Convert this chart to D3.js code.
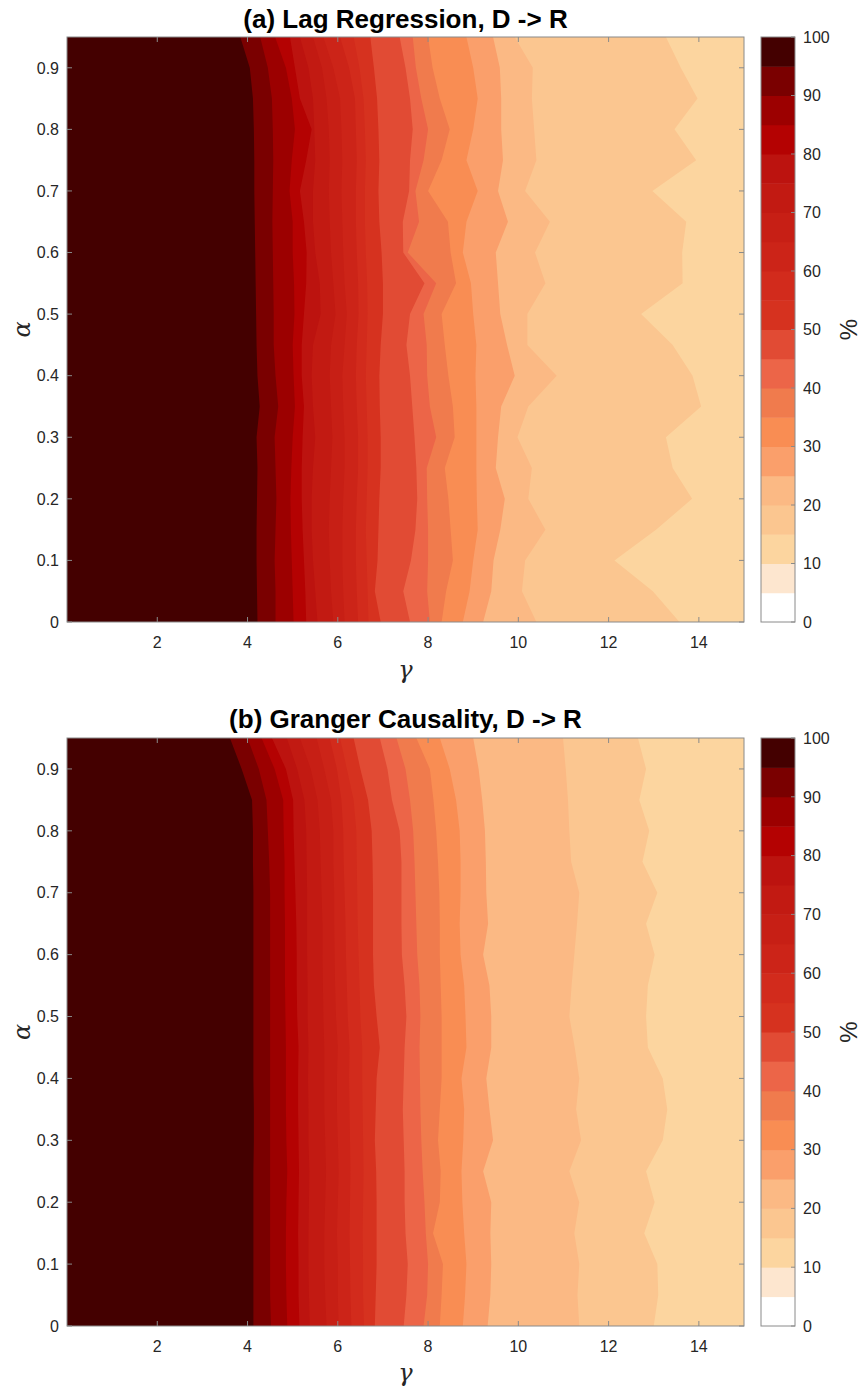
<!DOCTYPE html>
<html><head><meta charset="utf-8">
<script src="https://cdn.jsdelivr.net/npm/d3@7"></script>
<style>body{margin:0;background:#fff} svg{display:block}</style>
</head><body>
<svg id="chart" width="863" height="1389"></svg>
<script>
// ---------- data ----------
const alphaRows = [0,0.05,0.1,0.15,0.2,0.25,0.3,0.35,0.4,0.45,0.5,0.55,0.6,0.65,0.7,0.75,0.8,0.85,0.9,0.95];
const levels = [15,20,25,30,35,40,45,50,55,60,65,70,75,80,85,90,95];
const bandColors = ["#ffffff","#fde6cf","#fcd59f","#fbc690","#fbb984","#fa9f6b","#f98d53","#f07b4d","#ec6548","#e14b34",
                    "#d6321f","#d22b1c","#cc2418","#c71f15","#c21a12","#bc130f","#b40202","#9c0000","#7a0000","#440000"];
const cbTicks = [0,10,20,30,40,50,60,70,80,90,100];
const xTicks = [2,4,6,8,10,12,14];
const yTicks = [0,0.1,0.2,0.3,0.4,0.5,0.6,0.7,0.8,0.9];
const titles = ["(a) Lag Regression, D -> R","(b) Granger Causality, D -> R"];

// (a) Lag Regression: gamma position of each contour level, per alpha row
const lagL15 = [13.57,12.98,12.13,13.05,13.85,13.42,13.27,14.05,13.86,13.42,12.72,13.64,13.63,13.72,12.97,13.94,13.46,13.97,13.6,13.27];
const lagL20 = [10.4,10.08,10.15,10.6,10.22,10.3,9.98,10.22,10.85,10.2,10.2,10.6,10.37,10.7,10.15,10.4,10.35,10.3,10.32,9.92];
const lagL25 = [9.22,9.4,9.45,9.6,9.7,9.5,9.55,9.62,9.92,9.75,9.6,9.55,9.5,9.77,9.55,9.66,9.62,9.62,9.59,9.44];
const lagL30 = [8.77,8.92,9.0,9.1,9.08,9.07,9.07,9.07,9.05,9.07,9.0,8.95,8.77,8.85,9.1,8.85,9.0,9.1,9.0,8.85];
const lagL35 = [8.3,8.4,8.55,8.5,8.45,8.37,8.59,8.55,8.45,8.37,8.3,8.62,8.5,8.44,8.0,8.3,8.48,8.26,8.1,8.0];
const lagL40 = [8.04,7.98,8.0,8.0,7.98,7.97,8.18,8.04,7.98,7.97,7.9,8.18,7.55,7.8,7.72,7.9,8.0,7.85,7.73,7.66];
const lagL45 = [7.6,7.45,7.62,7.72,7.76,7.74,7.7,7.65,7.6,7.52,7.6,7.92,7.45,7.44,7.58,7.6,7.66,7.6,7.5,7.37];
const lagL50 = [6.95,6.82,6.88,6.9,6.92,6.95,6.95,6.93,6.92,6.95,7.0,7.0,6.97,6.92,6.9,6.92,6.9,6.87,6.8,6.72];
const lagL55 = [6.68,6.66,6.64,6.62,6.64,6.66,6.66,6.64,6.62,6.64,6.66,6.65,6.62,6.6,6.6,6.62,6.6,6.57,6.48,6.35];
const lagL60 = [6.45,6.42,6.4,6.4,6.42,6.45,6.45,6.42,6.4,6.42,6.46,6.45,6.42,6.4,6.4,6.42,6.4,6.38,6.25,6.05];
const lagL65 = [6.15,6.12,6.1,6.1,6.12,6.15,6.15,6.12,6.1,6.15,6.2,6.15,6.12,6.1,6.08,6.1,6.08,6.05,5.9,5.68];
const lagL70 = [5.9,5.85,5.82,5.8,5.82,5.85,5.88,5.85,5.82,5.85,5.95,5.9,5.85,5.82,5.8,5.82,5.8,5.75,5.65,5.45];
const lagL75 = [5.55,5.5,5.45,5.42,5.42,5.45,5.5,5.45,5.42,5.45,5.62,5.6,5.5,5.45,5.45,5.5,5.48,5.45,5.35,5.16];
const lagL80 = [5.3,5.28,5.25,5.22,5.2,5.2,5.22,5.25,5.2,5.2,5.25,5.3,5.31,5.25,5.16,5.3,5.42,5.16,5.05,4.94];
const lagL85 = [5.02,5.0,4.98,4.96,4.95,4.97,5.0,5.05,5.02,5.0,5.04,5.03,5.0,5.0,4.93,4.98,5.05,4.98,4.85,4.61];
const lagL90 = [4.62,4.62,4.6,4.62,4.64,4.62,4.6,4.68,4.62,4.58,4.58,4.57,4.56,4.55,4.56,4.57,4.56,4.54,4.45,4.28];
const lagL95 = [4.22,4.21,4.2,4.2,4.21,4.22,4.2,4.27,4.22,4.2,4.19,4.18,4.17,4.16,4.15,4.15,4.14,4.12,4.05,3.84];

// (b) Granger Causality
const grL15 = [13.0,13.1,13.08,12.79,13.02,12.83,13.2,13.3,13.2,12.87,12.83,12.87,13.02,12.83,13.08,12.75,12.9,12.68,12.83,12.65];
const grL20 = [11.35,11.31,11.35,11.24,11.35,11.13,11.39,11.28,11.35,11.25,11.13,11.18,11.24,11.3,11.35,11.17,11.13,11.1,11.05,10.99];
const grL25 = [9.32,9.38,9.4,9.38,9.4,9.22,9.44,9.36,9.29,9.4,9.4,9.36,9.22,9.33,9.29,9.28,9.26,9.2,9.12,9.0];
const grL30 = [8.77,8.82,8.85,8.8,8.76,8.74,8.78,8.8,8.74,8.85,8.83,8.8,8.72,8.7,8.72,8.72,8.7,8.62,8.48,8.26];
const grL35 = [8.26,8.3,8.33,8.11,8.26,8.28,8.22,8.26,8.3,8.3,8.3,8.28,8.26,8.26,8.25,8.22,8.18,8.12,8.04,7.74];
const grL40 = [7.9,7.98,8.0,7.95,7.92,7.88,7.85,7.83,7.82,7.81,7.83,7.81,7.76,7.74,7.72,7.7,7.67,7.6,7.5,7.3];
const grL45 = [7.46,7.52,7.55,7.5,7.48,7.48,7.46,7.44,7.46,7.48,7.52,7.48,7.42,7.41,7.41,7.41,7.37,7.2,7.1,6.93];
const grL50 = [6.82,6.84,6.86,6.86,6.86,6.85,6.82,6.84,6.86,6.93,6.86,6.8,6.78,6.78,6.78,6.77,6.75,6.67,6.5,6.35];
const grL55 = [6.58,6.56,6.56,6.55,6.56,6.57,6.56,6.55,6.54,6.54,6.5,6.48,6.46,6.44,6.43,6.42,6.41,6.35,6.2,6.05];
const grL60 = [6.3,6.28,6.27,6.26,6.27,6.28,6.27,6.26,6.25,6.26,6.22,6.2,6.18,6.17,6.15,6.13,6.12,6.08,5.98,5.82];
const grL65 = [6.02,6.0,6.0,5.98,6.0,6.02,6.0,5.98,5.98,6.0,5.96,5.94,5.93,5.92,5.92,5.9,5.9,5.85,5.7,5.53];
const grL70 = [5.75,5.72,5.7,5.7,5.72,5.74,5.72,5.7,5.7,5.7,5.68,5.67,5.66,5.66,5.64,5.62,5.6,5.55,5.4,5.16];
const grL75 = [5.38,5.36,5.35,5.35,5.36,5.37,5.35,5.35,5.34,5.35,5.33,5.33,5.32,5.32,5.32,5.31,5.3,5.26,5.1,4.87];
const grL80 = [5.15,5.13,5.13,5.12,5.13,5.14,5.13,5.12,5.12,5.13,5.1,5.09,5.09,5.08,5.06,5.04,5.02,5.01,4.85,4.54];
const grL85 = [4.88,4.86,4.85,4.85,4.86,4.88,4.86,4.85,4.85,4.85,4.84,4.83,4.83,4.83,4.82,4.82,4.8,4.79,4.6,4.31];
const grL90 = [4.52,4.5,4.5,4.5,4.5,4.5,4.5,4.5,4.5,4.5,4.5,4.5,4.5,4.5,4.5,4.48,4.45,4.42,4.25,4.0];
const grL95 = [4.13,4.13,4.13,4.13,4.13,4.13,4.14,4.14,4.13,4.13,4.13,4.13,4.13,4.13,4.13,4.12,4.12,4.1,3.87,3.61];

const lagBounds = [lagL15,lagL20,lagL25,lagL30,lagL35,lagL40,lagL45,lagL50,lagL55,lagL60,lagL65,lagL70,lagL75,lagL80,lagL85,lagL90,lagL95];
const grBounds  = [grL15,grL20,grL25,grL30,grL35,grL40,grL45,grL50,grL55,grL60,grL65,grL70,grL75,grL80,grL85,grL90,grL95];

// ---------- layout ----------
const svg = d3.select("#chart");
const PL = 67, PR = 744, CBL = 761, CBR = 795;
const panels = [
  {top:37, bottom:622, bounds:lagBounds, title:titles[0], titleY:28, gY:678},
  {top:738, bottom:1326, bounds:grBounds, title:titles[1], titleY:728, gY:1381}
];
const font = "'Liberation Sans', Arial, Helvetica, sans-serif";
const axisCol = "#8a8a8a", txtCol = "#262626";

panels.forEach(p => {
  const g = svg.append("g");
  const x = d3.scaleLinear().domain([0,15]).range([PL,PR]);
  const y = d3.scaleLinear().domain([0,0.95]).range([p.bottom,p.top]);

  // base band (10-15)
  g.append("rect").attr("x",x(0)).attr("y",y(0.95)).attr("width",x(15)-x(0)).attr("height",y(0)-y(0.95))
    .attr("fill",bandColors[2]);
  const area = d3.area().y(d=>y(d[0])).x0(x(0)).x1(d=>x(d[1]));
  levels.forEach((lv,i)=>{
    const pts = alphaRows.map((a,j)=>[a,p.bounds[i][j]]);
    g.append("path").attr("d",area(pts)).attr("fill",bandColors[lv/5]);
  });

  // box + ticks
  g.append("rect").attr("x",x(0)).attr("y",y(0.95)).attr("width",x(15)-x(0)).attr("height",y(0)-y(0.95))
    .attr("fill","none").attr("stroke",axisCol).attr("stroke-width",1);
  const tl = 5;
  xTicks.forEach(t=>{
    g.append("line").attr("x1",x(t)).attr("x2",x(t)).attr("y1",y(0)).attr("y2",y(0)-tl).attr("stroke",axisCol);
    g.append("line").attr("x1",x(t)).attr("x2",x(t)).attr("y1",y(0.95)).attr("y2",y(0.95)+tl).attr("stroke",axisCol);
    g.append("text").attr("x",x(t)).attr("y",y(0)+26).attr("text-anchor","middle")
      .attr("font-family",font).attr("font-size",16).attr("fill",txtCol).text(t);
  });
  yTicks.forEach(t=>{
    g.append("line").attr("x1",x(0)).attr("x2",x(0)+tl).attr("y1",y(t)).attr("y2",y(t)).attr("stroke",axisCol);
    g.append("line").attr("x1",x(15)).attr("x2",x(15)-tl).attr("y1",y(t)).attr("y2",y(t)).attr("stroke",axisCol);
    g.append("text").attr("x",x(0)-8).attr("y",y(t)).attr("dy","0.36em").attr("text-anchor","end")
      .attr("font-family",font).attr("font-size",16).attr("fill",txtCol).text(t);
  });

  // title
  g.append("text").attr("x",(PL+PR)/2).attr("y",p.titleY).attr("text-anchor","middle")
    .attr("font-family",font).attr("font-weight","bold").attr("font-size",26).attr("fill","#000").text(p.title);
  // axis labels
  g.append("text").attr("x",(PL+PR)/2).attr("y",p.gY).attr("text-anchor","middle")
    .attr("font-family","'DejaVu Serif', serif").attr("font-style","italic").attr("font-size",24).attr("fill",txtCol).text("γ");
  const cy = (p.top+p.bottom)/2;
  g.append("text").attr("transform",`translate(30,${cy}) rotate(-90)`).attr("text-anchor","middle")
    .attr("font-family","'DejaVu Serif', serif").attr("font-style","italic").attr("font-size",24).attr("fill",txtCol).text("α");

  // colorbar
  const cb = d3.scaleLinear().domain([0,100]).range([p.bottom,p.top]);
  bandColors.forEach((c,i)=>{
    g.append("rect").attr("x",CBL).attr("width",CBR-CBL).attr("y",cb((i+1)*5)).attr("height",cb(i*5)-cb((i+1)*5)+0.5)
      .attr("fill",c);
  });
  g.append("rect").attr("x",CBL).attr("y",cb(100)).attr("width",CBR-CBL).attr("height",cb(0)-cb(100))
    .attr("fill","none").attr("stroke",axisCol);
  cbTicks.forEach(t=>{
    g.append("line").attr("x1",CBR).attr("x2",CBR-4).attr("y1",cb(t)).attr("y2",cb(t)).attr("stroke",axisCol);
    g.append("text").attr("x",CBR+8).attr("y",cb(t)).attr("dy","0.36em").attr("font-family",font)
      .attr("font-size",16).attr("fill",txtCol).text(t);
  });
  g.append("text").attr("transform",`translate(848,${cy}) rotate(-90)`).attr("text-anchor","middle").attr("dy","0.36em")
    .attr("font-family",font).attr("font-size",24).attr("fill",txtCol).text("%");
});
</script>
</body></html>
